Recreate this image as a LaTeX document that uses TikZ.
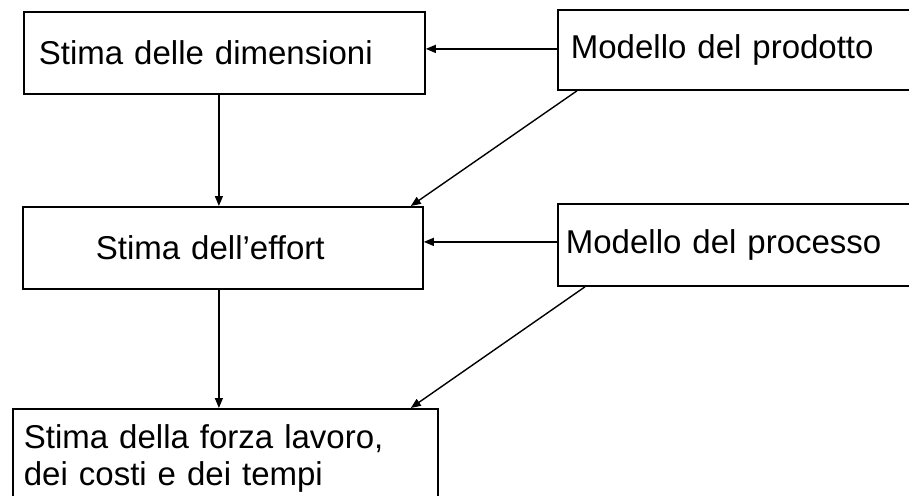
\documentclass[tikz,border=0pt]{standalone}
\usepackage{fontspec}
\setmainfont{Liberation Sans}
\usetikzlibrary{arrows.meta}
\begin{document}
\begin{tikzpicture}[x=1pt,y=-1pt,
  box/.style={draw, line width=1.8pt, anchor=north west, align=left,
    inner ysep=0pt, font=\fontsize{33}{37}\selectfont},
  arr/.style={line width=1.4pt, -{Triangle[length=10pt,width=8pt]}}]
  \useasboundingbox (0,0) rectangle (909,495);
  \clip (0,0) rectangle (909,495);

  % estimation steps (left column)
  \node[box, text width=371pt, inner xsep=15pt, minimum height=82pt]
    (dim) at (23,11) {Stima delle dimensioni};
  \node[box, text width=254pt, inner xsep=73pt, minimum height=82pt]
    (eff) at (22,206) {Stima dell’effort};
  \node[box, text width=403pt, inner xsep=11pt, inner ysep=15.5pt]
    (out) at (12,408) {Stima della forza lavoro,\\dei costi e dei tempi};

  % models (right column)
  \node[box, text width=325.5pt, inner xsep=13pt, minimum height=80pt]
    (prod) at (557,9) {Modello del prodotto};
  \node[box, text width=335.5pt, inner xsep=8pt, minimum height=82pt]
    (proc) at (557,203) {Modello del processo};

  % flow between steps
  \draw[arr] ([xshift=-5.5pt]dim.south) -- ([xshift=-5.5pt]dim.south |- eff.north);
  \draw[arr] ([xshift=-4pt]eff.south) -- ([xshift=-4pt]eff.south |- out.north);

  % model inputs
  \draw[arr] ([yshift=1pt]prod.west) -- ([yshift=1pt]prod.west -| dim.east);
  \draw[arr] ([yshift=3pt]proc.west) -- ([yshift=3pt]proc.west -| eff.east);
  \draw[arr] ([xshift=20pt]prod.south west) -- ([xshift=-13pt]eff.north east);
  \draw[arr] ([xshift=28pt]proc.south west) -- ([xshift=-28pt]out.north east);
\end{tikzpicture}
\end{document}
